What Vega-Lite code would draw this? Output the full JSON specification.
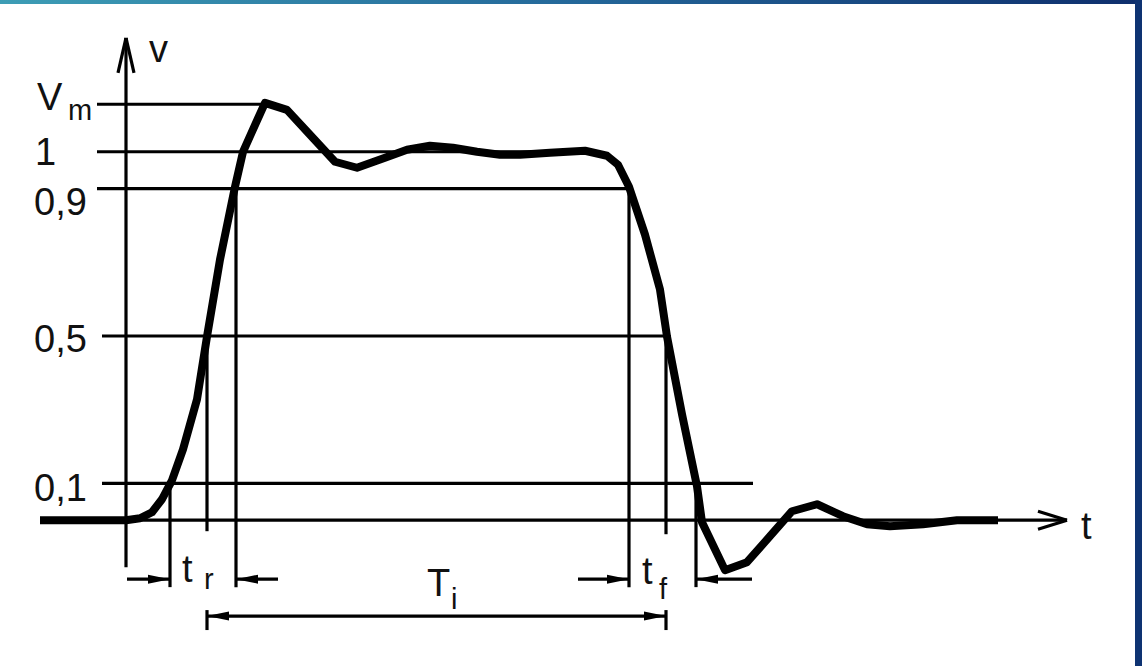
{
  "$schema": "https://vega.github.io/schema/vega-lite/v6.json",
  "width": 1142,
  "height": 667,
  "padding": 0,
  "autosize": {"type": "fit", "contains": "padding"},
  "background": "#ffffff",
  "config": {"view": {"stroke": null}, "axis": {"disable": true}},
  "datasets": {
    "frame_top": [{"x1": -126, "x2": 1016, "y1": 1.4119, "y2": 1.4011}],
    "frame_right": [{"x1": 1009, "x2": 1016, "y1": -0.3957, "y2": 1.4119}],
    "seg": [
      {"t1": 0, "v1": -0.1274, "t2": 0, "v2": 1.3089},
      {"t1": 0, "v1": 1.3089, "t2": -8, "v2": 1.2141},
      {"t1": 0, "v1": 1.3089, "t2": 8, "v2": 1.2141},
      {"t1": -86, "v1": 0, "t2": 941, "v2": 0},
      {"t1": 941, "v1": 0, "t2": 912, "v2": 0.0244},
      {"t1": 941, "v1": 0, "t2": 912, "v2": -0.0244},
      {"t1": -29, "v1": 1.129, "t2": 139, "v2": 1.129},
      {"t1": -29, "v1": 1, "t2": 470, "v2": 1},
      {"t1": -29, "v1": 0.9, "t2": 503, "v2": 0.9},
      {"t1": -24, "v1": 0.5, "t2": 540, "v2": 0.5},
      {"t1": -24, "v1": 0.1, "t2": 627, "v2": 0.1},
      {"t1": 44, "v1": 0.1, "t2": 44, "v2": -0.1816},
      {"t1": 81, "v1": 0.5, "t2": 81, "v2": -0.0298},
      {"t1": 110, "v1": 0.9, "t2": 110, "v2": -0.1816},
      {"t1": 503, "v1": 0.9, "t2": 503, "v2": -0.1816},
      {"t1": 540, "v1": 0.5, "t2": 540, "v2": -0.038},
      {"t1": 570, "v1": 0.1, "t2": 570, "v2": -0.1816},
      {"t1": 81, "v1": -0.2439, "t2": 81, "v2": -0.2981},
      {"t1": 540, "v1": -0.2439, "t2": 540, "v2": -0.2981},
      {"t1": 81, "v1": -0.2602, "t2": 540, "v2": -0.2602},
      {"t1": 1, "v1": -0.1599, "t2": 44, "v2": -0.1599},
      {"t1": 152, "v1": -0.1599, "t2": 110, "v2": -0.1599},
      {"t1": 452, "v1": -0.1599, "t2": 503, "v2": -0.1599},
      {"t1": 626, "v1": -0.1599, "t2": 570, "v2": -0.1599}
    ],
    "wave": [
      {"t": -86, "v": 0}, {"t": 0, "v": 0}, {"t": 14, "v": 0.0054}, {"t": 26, "v": 0.0217},
      {"t": 36, "v": 0.0569}, {"t": 46, "v": 0.1084}, {"t": 57, "v": 0.1924}, {"t": 71, "v": 0.3279},
      {"t": 81, "v": 0.4986}, {"t": 94, "v": 0.7073}, {"t": 109, "v": 0.9051}, {"t": 117, "v": 1.0},
      {"t": 139, "v": 1.1328}, {"t": 161, "v": 1.1138}, {"t": 184, "v": 1.0461}, {"t": 209, "v": 0.9729},
      {"t": 231, "v": 0.9566}, {"t": 259, "v": 0.9837}, {"t": 281, "v": 1.0054}, {"t": 304, "v": 1.0163},
      {"t": 327, "v": 1.0108}, {"t": 351, "v": 1.0}, {"t": 374, "v": 0.9919}, {"t": 394, "v": 0.9919},
      {"t": 424, "v": 0.9973}, {"t": 459, "v": 1.0027}, {"t": 481, "v": 0.9892}, {"t": 492, "v": 0.9648},
      {"t": 503, "v": 0.9051}, {"t": 519, "v": 0.7751}, {"t": 534, "v": 0.626}, {"t": 541, "v": 0.4986},
      {"t": 556, "v": 0.2873}, {"t": 571, "v": 0.0921}, {"t": 576, "v": -0.0054}, {"t": 599, "v": -0.1355},
      {"t": 621, "v": -0.1138}, {"t": 644, "v": -0.0434}, {"t": 666, "v": 0.0244}, {"t": 691, "v": 0.0434},
      {"t": 717, "v": 0.0108}, {"t": 741, "v": -0.0108}, {"t": 764, "v": -0.0163}, {"t": 797, "v": -0.0108},
      {"t": 831, "v": 0}, {"t": 872, "v": 0}
    ],
    "headR": [{"t": 44, "v": -0.1599}, {"t": 503, "v": -0.1599}, {"t": 540, "v": -0.2602}],
    "headL": [{"t": 110, "v": -0.1599}, {"t": 570, "v": -0.1599}, {"t": 81, "v": -0.2602}],
    "main": [
      {"t": 23, "v": 1.2439, "label": "v"},
      {"t": -89, "v": 1.1138, "label": "V"},
      {"t": -91, "v": 0.9648, "label": "1"},
      {"t": -92, "v": 0.8293, "label": "0,9"},
      {"t": -92, "v": 0.4553, "label": "0,5"},
      {"t": -92, "v": 0.0515, "label": "0,1"},
      {"t": 955, "v": -0.0515, "label": "t"},
      {"t": 56, "v": -0.168, "label": "t"},
      {"t": 301, "v": -0.206, "label": "T"},
      {"t": 516, "v": -0.1734, "label": "t"}
    ],
    "sub": [
      {"t": -58, "v": 1.0867, "label": "m"},
      {"t": 78, "v": -0.187, "label": "r"},
      {"t": 325, "v": -0.241, "label": "i"},
      {"t": 533, "v": -0.214, "label": "f"}
    ]
  },
  "layer": [
    {
      "data": {"name": "frame_top"},
      "mark": {"type": "rect", "color": {"x1": 0, "y1": 0, "x2": 1, "y2": 0, "gradient": "linear", "stops": [{"offset": 0, "color": "#3d9db5"}, {"offset": 0.5, "color": "#24689a"}, {"offset": 1, "color": "#0e2e6c"}]}},
      "encoding": {
        "x": {"field": "x1", "type": "quantitative", "scale": {"domain": [-126, 1016], "nice": false, "zero": false}},
        "x2": {"field": "x2"},
        "y": {"field": "y1", "type": "quantitative", "scale": {"domain": [-0.39566, 1.41192], "nice": false, "zero": false}},
        "y2": {"field": "y2"}
      }
    },
    {
      "data": {"name": "frame_right"},
      "mark": {"type": "rect", "color": "#0e3372"},
      "encoding": {
        "x": {"field": "x1", "type": "quantitative"},
        "x2": {"field": "x2"},
        "y": {"field": "y1", "type": "quantitative"},
        "y2": {"field": "y2"}
      }
    },
    {
      "data": {"name": "seg"},
      "mark": {"type": "rule", "color": "#000000", "strokeWidth": 3.2, "strokeCap": "butt"},
      "encoding": {
        "x": {"field": "t1", "type": "quantitative"},
        "x2": {"field": "t2"},
        "y": {"field": "v1", "type": "quantitative"},
        "y2": {"field": "v2"}
      }
    },
    {
      "data": {"name": "wave"},
      "mark": {"type": "line", "color": "#000000", "strokeWidth": 8, "strokeJoin": "round", "strokeCap": "butt"},
      "encoding": {
        "x": {"field": "t", "type": "quantitative"},
        "y": {"field": "v", "type": "quantitative"}
      }
    },
    {
      "data": {"name": "headR"},
      "mark": {"type": "point", "shape": "M0,0L-2.2,-0.45L-2.2,0.45Z", "size": 400, "filled": true, "color": "#000000", "opacity": 1, "strokeWidth": 0},
      "encoding": {
        "x": {"field": "t", "type": "quantitative"},
        "y": {"field": "v", "type": "quantitative"}
      }
    },
    {
      "data": {"name": "headL"},
      "mark": {"type": "point", "shape": "M0,0L2.2,-0.45L2.2,0.45Z", "size": 400, "filled": true, "color": "#000000", "opacity": 1, "strokeWidth": 0},
      "encoding": {
        "x": {"field": "t", "type": "quantitative"},
        "y": {"field": "v", "type": "quantitative"}
      }
    },
    {
      "data": {"name": "main"},
      "mark": {"type": "text", "font": "Liberation Sans", "fontSize": 38, "align": "left", "baseline": "alphabetic", "color": "#111111"},
      "encoding": {
        "x": {"field": "t", "type": "quantitative"},
        "y": {"field": "v", "type": "quantitative"},
        "text": {"field": "label"}
      }
    },
    {
      "data": {"name": "sub"},
      "mark": {"type": "text", "font": "Liberation Sans", "fontSize": 29, "align": "left", "baseline": "alphabetic", "color": "#111111"},
      "encoding": {
        "x": {"field": "t", "type": "quantitative"},
        "y": {"field": "v", "type": "quantitative"},
        "text": {"field": "label"}
      }
    }
  ]
}
